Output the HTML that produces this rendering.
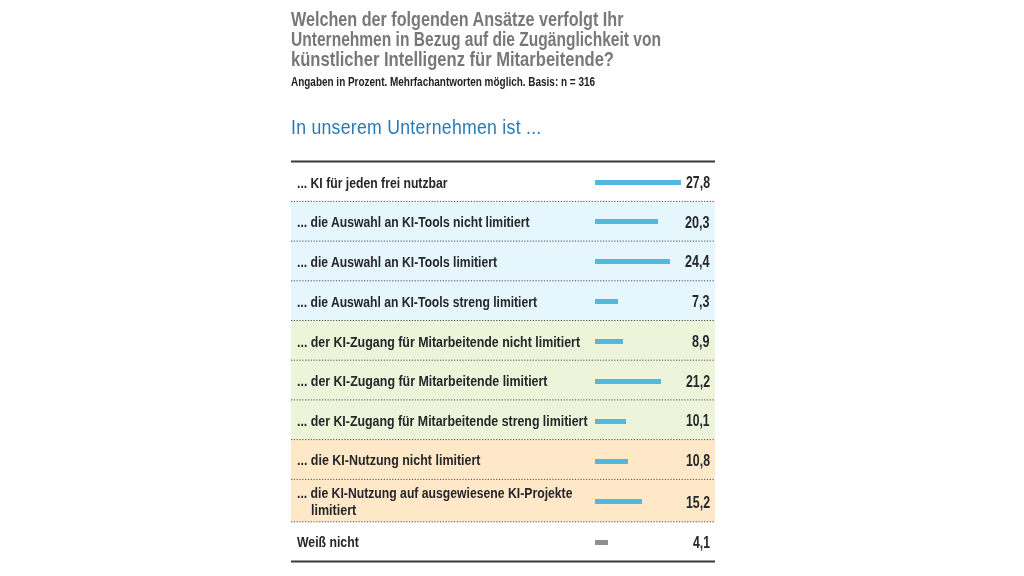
<!DOCTYPE html>
<html lang="de">
<head>
<meta charset="utf-8">
<title>KI-Zugänglichkeit für Mitarbeitende</title>
<style>
html,body{margin:0;padding:0;background:#fff;}
body{width:1024px;height:576px;position:relative;overflow:hidden;font-family:"Liberation Sans", Arial, sans-serif;}
h1,h2,p,ul,li{margin:0;padding:0;font:inherit;list-style:none;}
.x{position:absolute;white-space:nowrap;display:block;transform-origin:0 0;line-height:1;}
.t{font-size:21px;font-weight:bold;color:#787879;}
.s{font-size:12.6px;font-weight:bold;color:#222;}
.h{font-size:20px;font-weight:normal;color:#2a79b3;letter-spacing:0.3px;}
.l{font-size:15.5px;font-weight:bold;color:#26262b;}
.n{font-size:16.2px;font-weight:bold;color:#26262b;}
.grid{position:absolute;left:291px;top:0;}
.bar{position:absolute;left:595px;height:5px;background:#52b8e0;display:block;}
.bar.gr{background:#8f9096;}
</style>
</head>
<body>
<header>
<h1><span class="x t" style="left:291px;top:7.97px;transform:scaleX(0.7701)">Welchen der folgenden Ansätze verfolgt Ihr</span><span class="x t" style="left:291px;top:28.47px;transform:scaleX(0.7409)">Unternehmen in Bezug auf die Zugänglichkeit von</span><span class="x t" style="left:291px;top:48.47px;transform:scaleX(0.7886)">künstlicher Intelligenz für Mitarbeitende?</span></h1>
<p><span class="x s" style="left:291px;top:75.58px;transform:scaleX(0.7906)">Angaben in Prozent. Mehrfachantworten möglich. Basis: n = 316</span></p>
<h2><span class="x h" style="left:291px;top:116.82px;transform:scaleX(0.8834)">In unserem Unternehmen ist ...</span></h2>
</header>
<main>
<svg class="grid" width="424" height="576" viewBox="0 0 424 576" aria-hidden="true">
<rect x="0" y="201.40" width="424" height="39.70" fill="#e6f6fd"/>
<rect x="0" y="241.10" width="424" height="39.70" fill="#e6f6fd"/>
<rect x="0" y="280.80" width="424" height="39.70" fill="#e6f6fd"/>
<rect x="0" y="320.50" width="424" height="39.70" fill="#eef4d9"/>
<rect x="0" y="360.20" width="424" height="39.70" fill="#eef4d9"/>
<rect x="0" y="399.90" width="424" height="39.70" fill="#eef4d9"/>
<rect x="0" y="439.60" width="424" height="39.80" fill="#fee8c8"/>
<rect x="0" y="479.40" width="424" height="42.40" fill="#fee8c8"/>
<line x1="0" x2="424" y1="201.4" y2="201.4" stroke="#505050" stroke-width="1" stroke-dasharray="1.25 1.56"/>
<line x1="0" x2="424" y1="241.1" y2="241.1" stroke="#505050" stroke-width="1" stroke-dasharray="1.25 1.56"/>
<line x1="0" x2="424" y1="280.8" y2="280.8" stroke="#505050" stroke-width="1" stroke-dasharray="1.25 1.56"/>
<line x1="0" x2="424" y1="320.5" y2="320.5" stroke="#505050" stroke-width="1" stroke-dasharray="1.25 1.56"/>
<line x1="0" x2="424" y1="360.2" y2="360.2" stroke="#505050" stroke-width="1" stroke-dasharray="1.25 1.56"/>
<line x1="0" x2="424" y1="399.9" y2="399.9" stroke="#505050" stroke-width="1" stroke-dasharray="1.25 1.56"/>
<line x1="0" x2="424" y1="439.6" y2="439.6" stroke="#505050" stroke-width="1" stroke-dasharray="1.25 1.56"/>
<line x1="0" x2="424" y1="479.4" y2="479.4" stroke="#505050" stroke-width="1" stroke-dasharray="1.25 1.56"/>
<line x1="0" x2="424" y1="521.8" y2="521.8" stroke="#505050" stroke-width="1" stroke-dasharray="1.25 1.56"/>
<line x1="0" x2="424" y1="161.6" y2="161.6" stroke="#38393e" stroke-width="2"/>
<line x1="0" x2="424" y1="561.45" y2="561.45" stroke="#38393e" stroke-width="2"/>
</svg>
<ul>
<li><span class="x l" style="left:297px;top:174.98px;transform:scaleX(0.7872)">... KI für jeden frei nutzbar</span><i class="bar" style="top:179.70px;width:85.99px"></i><b class="x n" style="left:685.5px;top:174.19px;transform:scaleX(0.7615)">27,8</b></li>
<li><span class="x l" style="left:297px;top:214.48px;transform:scaleX(0.7848)">... die Auswahl an KI-Tools nicht limitiert</span><i class="bar" style="top:219.25px;width:62.79px"></i><b class="x n" style="left:685.0px;top:213.69px;transform:scaleX(0.7774)">20,3</b></li>
<li><span class="x l" style="left:297px;top:254.23px;transform:scaleX(0.7846)">... die Auswahl an KI-Tools limitiert</span><i class="bar" style="top:259.25px;width:75.47px"></i><b class="x n" style="left:685.0px;top:253.44px;transform:scaleX(0.7774)">24,4</b></li>
<li><span class="x l" style="left:297px;top:293.98px;transform:scaleX(0.7828)">... die Auswahl an KI-Tools streng limitiert</span><i class="bar" style="top:299.00px;width:22.58px"></i><b class="x n" style="left:692.0px;top:293.19px;transform:scaleX(0.7772)">7,3</b></li>
<li><span class="x l" style="left:297px;top:333.73px;transform:scaleX(0.7996)">... der KI-Zugang für Mitarbeitende nicht limitiert</span><i class="bar" style="top:339.25px;width:27.53px"></i><b class="x n" style="left:692.0px;top:332.94px;transform:scaleX(0.7772)">8,9</b></li>
<li><span class="x l" style="left:297px;top:373.48px;transform:scaleX(0.8013)">... der KI-Zugang für Mitarbeitende limitiert</span><i class="bar" style="top:379.00px;width:65.57px"></i><b class="x n" style="left:685.5px;top:372.69px;transform:scaleX(0.7615)">21,2</b></li>
<li><span class="x l" style="left:297px;top:413.23px;transform:scaleX(0.7975)">... der KI-Zugang für Mitarbeitende streng limitiert</span><i class="bar" style="top:418.75px;width:31.24px"></i><b class="x n" style="left:686.0px;top:412.44px;transform:scaleX(0.7457)">10,1</b></li>
<li><span class="x l" style="left:297px;top:452.38px;transform:scaleX(0.8042)">... die KI-Nutzung nicht limitiert</span><i class="bar" style="top:458.75px;width:33.40px"></i><b class="x n" style="left:685.5px;top:451.94px;transform:scaleX(0.7615)">10,8</b></li>
<li><span class="x l" style="left:297px;top:485.38px;transform:scaleX(0.7878)">... die KI-Nutzung auf ausgewiesene KI-Projekte</span><span class="x l" style="left:311.25px;top:501.58px;transform:scaleX(0.8083)">limitiert</span><i class="bar" style="top:498.50px;width:47.01px"></i><b class="x n" style="left:685.5px;top:493.89px;transform:scaleX(0.7615)">15,2</b></li>
<li><span class="x l" style="left:297px;top:534.08px;transform:scaleX(0.7909)">Weiß nicht</span><i class="bar gr" style="top:540.00px;width:12.68px"></i><b class="x n" style="left:692.5px;top:534.29px;transform:scaleX(0.7550)">4,1</b></li>
</ul>
</main>
</body>
</html>
